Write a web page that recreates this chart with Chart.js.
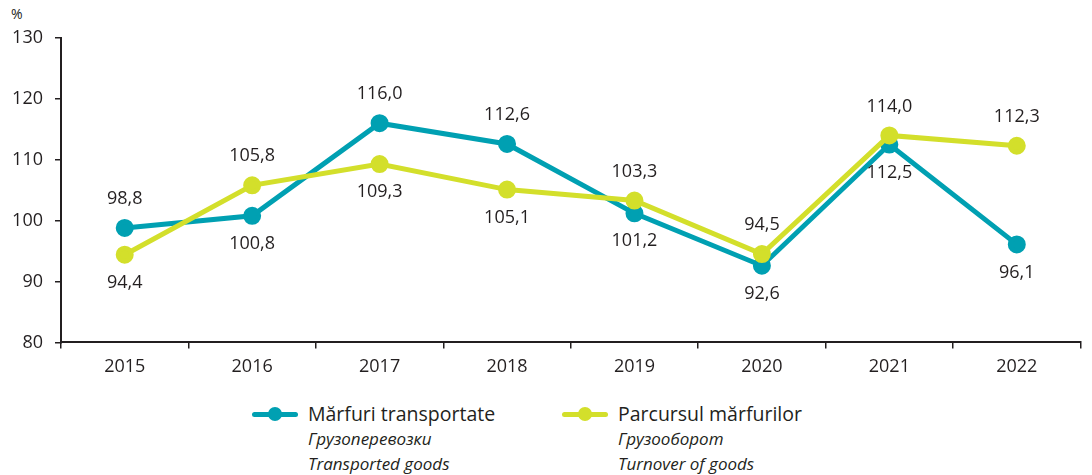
<!DOCTYPE html>
<html>
<head>
<meta charset="utf-8">
<script src="https://cdn.jsdelivr.net/npm/chart.js@4.4.0/dist/chart.umd.min.js"></script>
<style>
body{margin:0;background:#fff;font-family:"Open Sans",sans-serif;color:#231f20;}
#wrap{position:relative;width:1092px;height:475px;}
#box{position:absolute;left:0;top:0;width:1092px;height:386px;}
.pct{position:absolute;left:11px;top:4px;font-size:14px;}
.leg{position:absolute;top:401px;font-size:19.5px;line-height:25px;}
.leg i{display:block;font-size:17px;}
.sw{position:absolute;left:-56px;top:11px;width:46px;height:5px;border-radius:3px;}
.sw b{position:absolute;left:16px;top:-5px;width:14px;height:14px;border-radius:50%;}
</style>
</head>
<body>
<div id="wrap">
<div class="pct">%</div>
<div id="box"><canvas id="grafica"></canvas></div>

<div class="leg" style="left:308px">
<span class="sw" style="background:#00a0b2"><b style="background:#00a0b2"></b></span>
Mărfuri transportate
<i>Грузоперевозки</i>
<i>Transported goods</i>
</div>

<div class="leg" style="left:618px">
<span class="sw" style="background:#d3df2b"><b style="background:#d3df2b"></b></span>
Parcursul mărfurilor
<i>Грузооборот</i>
<i>Turnover of goods</i>
</div>
</div>

<script>
const anios = ["2015","2016","2017","2018","2019","2020","2021","2022"];

const transportate = [98.8,100.8,116.0,112.6,101.2,92.6,112.5,96.1];
const parcursul = [94.4,105.8,109.3,105.1,103.3,94.5,114.0,112.3];

// up = eticheta deasupra punctului
const posTransportate = ["up","down","up","up","down","down","down","down"];
const posParcursul = ["down","up","down","down","up","up","up","up"];

const ticksY = [80,90,100,110,120,130];

const etichete = {
id:"etichete",
afterDatasetsDraw(chart){

const ctx = chart.ctx;
ctx.save();
ctx.font = "18px 'Open Sans'";
ctx.fillStyle = "#231f20";
ctx.textAlign = "center";
ctx.textBaseline = "middle";

chart.data.datasets.forEach((ds,i)=>{

const meta = chart.getDatasetMeta(i);

meta.data.forEach((p,j)=>{

const txt = ds.data[j].toFixed(1).replace(".",",");
const dy = ds.pos[j]=="up" ? -29 : 28;

ctx.fillText(txt,p.x,p.y+dy);

});

});

ctx.restore();

}
};

new Chart(document.getElementById("grafica"),{
type:"line",
data:{
labels:anios,
datasets:[
{
label:"Mărfuri transportate",
data:transportate,
pos:posTransportate,
borderColor:"#00a0b2",
backgroundColor:"#00a0b2",
borderWidth:5,
pointRadius:6.5,
order:2
},
{
label:"Parcursul mărfurilor",
data:parcursul,
pos:posParcursul,
borderColor:"#d3df2b",
backgroundColor:"#d3df2b",
borderWidth:5,
pointRadius:6.5,
order:1
}
]
},
options:{
responsive:true,
maintainAspectRatio:false,
animation:false,
layout:{padding:{top:38,right:0,left:0,bottom:0}},
plugins:{
legend:{display:false},
tooltip:{enabled:false}
},
scales:{
x:{
offset:true,
grid:{offset:true,drawOnChartArea:false,tickLength:6,color:"#231f20",lineWidth:1.5},
border:{color:"#231f20",width:2},
ticks:{color:"#231f20",font:{family:"Open Sans",size:18},padding:8}
},
y:{
min:80,
max:130,
afterBuildTicks(axis){
axis.ticks = ticksY.map(v=>({value:v}));
},
grid:{drawOnChartArea:false,tickLength:6,color:"#231f20",lineWidth:1.5},
border:{color:"#231f20",width:2},
ticks:{color:"#231f20",font:{family:"Open Sans",size:18},padding:12},
afterFit(axis){
axis.width = 61;
}
}
}
},
plugins:[etichete]
});
</script>
</body>
</html>
